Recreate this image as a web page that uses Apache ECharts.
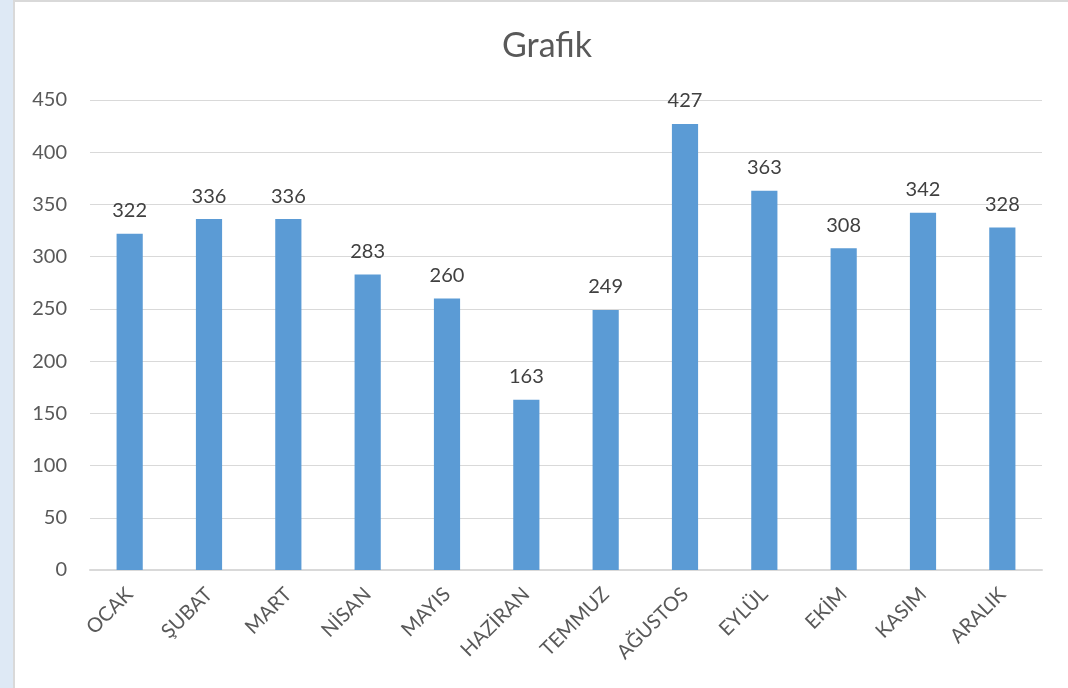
<!DOCTYPE html>
<html><head><meta charset="utf-8">
<script src="https://cdn.jsdelivr.net/npm/echarts@6/dist/echarts.min.js"></script>
<style>
html,body{margin:0;padding:0;background:#DEE9F5;width:1068px;height:688px;overflow:hidden}
#frame{position:absolute;left:13px;top:0;width:1055px;height:688px;background:#fff;border-left:2px solid #D9D9D9;border-top:2px solid #D9D9D9;box-sizing:border-box}
#c{position:absolute;left:0;top:0;width:1068px;height:688px}
</style></head><body>
<div id="frame"></div>
<div id="c"></div>
<script>
const categories = ['OCAK','ŞUBAT','MART','NİSAN','MAYIS','HAZİRAN','TEMMUZ','AĞUSTOS','EYLÜL','EKİM','KASIM','ARALIK'];
const values = [322,336,336,283,260,163,249,427,363,308,342,328];
const title = 'Grafik';
const font = 'Lato, "Open Sans", sans-serif';
const chart = echarts.init(document.getElementById('c'));
chart.setOption({
  backgroundColor: 'transparent',
  animation: false,
  title: {text: title, left: 542, top: 24, textAlign: 'center',
    textStyle: {fontFamily: font, fontSize: 34, fontWeight: 'normal', color: '#595959'}},
  grid: {left: 90, right: 26, top: 100, bottom: 118},
  xAxis: {type: 'category', data: categories,
    axisLine: {lineStyle: {color: '#D9D9D9', width: 2}},
    axisTick: {show: false},
    axisLabel: {rotate: 45, fontFamily: font, fontSize: 20, color: '#595959', margin: 21, interval: 0}},
  yAxis: {type: 'value', min: 0, max: 450, interval: 50,
    axisLine: {show: false}, axisTick: {show: false},
    splitLine: {lineStyle: {color: '#D9D9D9', width: 1}},
    axisLabel: {fontFamily: font, fontSize: 20, color: '#595959', margin: 23}},
  series: [{type: 'bar', data: values, barWidth: '33%',
    itemStyle: {color: '#5B9BD5'},
    label: {show: true, position: 'top', distance: 13, fontFamily: font, fontSize: 20, color: '#404040'}}]
});
</script></body></html>
